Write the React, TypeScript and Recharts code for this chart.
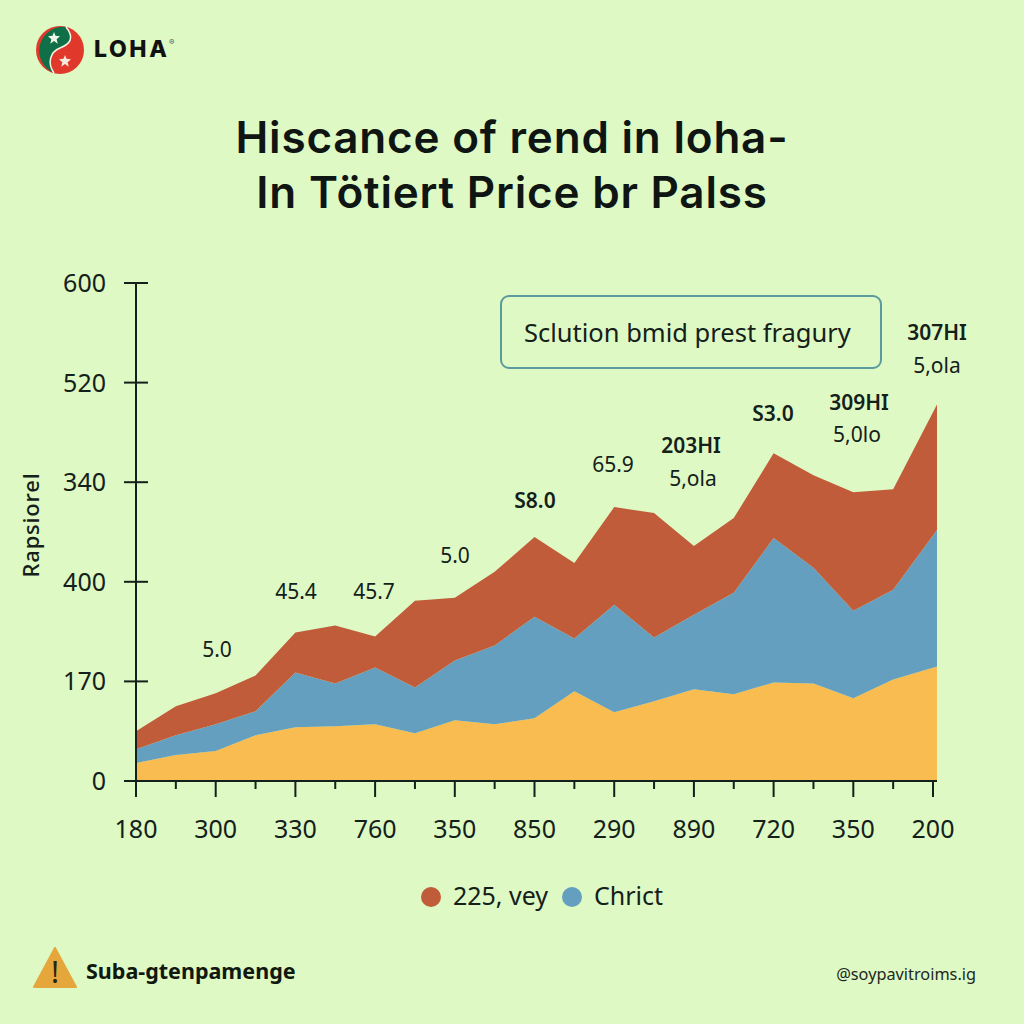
import { Area, AreaChart, Legend, XAxis, YAxis } from "recharts"

const BG = "#DEF9C3"
const INK = "#14201A"
const UI_FONT = "'Noto Sans', sans-serif"
const HEAD_FONT = "Inter, sans-serif"

// last sample sits slightly past the final tick, same as the picture
const xValues = [0, 1, 2, 3, 4, 5, 6, 7, 8, 9, 10, 11, 12, 13, 14, 15, 16, 17, 18, 19, 20.1]
const yellowValues = [18, 26, 30, 46, 54, 55, 57, 48, 61, 57, 63, 90, 69, 80, 92, 87, 99, 98, 83, 102, 115]
const blueValues = [14, 20, 27, 24, 55, 43, 57, 46, 60, 79, 102, 53, 108, 64, 75, 102, 145, 116, 88, 90, 137]
const redValues = [18, 29, 31, 36, 40, 58, 31, 87, 63, 74, 80, 76, 98, 125, 69, 75, 85, 93, 119, 101, 126]

const xTicks = [0, 1, 2, 3, 4, 5, 6, 7, 8, 9, 10, 11, 12, 13, 14, 15, 16, 17, 18, 19, 20]
const xTickLabels = ["180", "300", "330", "760", "350", "850", "290", "890", "720", "350", "200"]
const yTicks = [0, 100, 200, 300, 400, 500]
const yTickLabels = ["0", "170", "400", "340", "520", "600"]

const chartData = xValues.map((x, i) => ({
  x,
  yellow: yellowValues[i],
  blue: blueValues[i],
  red: redValues[i],
}))

type TickProps = {
  x?: number
  y?: number
  index?: number
  payload?: { value: number }
}

function XTick({ x = 0, payload }: TickProps) {
  const value = payload?.value ?? 0
  const isMajor = value % 2 === 0
  return (
    <g>
      <line x1={x} x2={x} y1={781} y2={isMajor ? 797 : 789} stroke={INK} strokeWidth={2} />
      {isMajor && (
        <text x={x} y={838} textAnchor="middle" fontSize={25} fontFamily={UI_FONT} fill={INK}>
          {xTickLabels[value / 2]}
        </text>
      )}
    </g>
  )
}

function YTick({ y = 0, index = 0 }: TickProps) {
  return (
    <g>
      <line x1={124} x2={148} y1={y} y2={y} stroke={INK} strokeWidth={2} />
      <text x={106} y={y + 9} textAnchor="end" fontSize={25} fontFamily={UI_FONT} fill={INK}>
        {yTickLabels[index]}
      </text>
    </g>
  )
}

function Note({ x, y, text, bold }: { x: number; y: number; text: string; bold?: boolean }) {
  return (
    <text
      x={x}
      y={y}
      textAnchor="middle"
      fontSize={21}
      fontWeight={bold ? 600 : 400}
      fontFamily={UI_FONT}
      fill={INK}
    >
      {text}
    </text>
  )
}

function Logo() {
  const star = "0,-8 2,-3 8,-2.5 3.5,1.5 5,7.5 0,4 -5,7.5 -3.5,1.5 -8,-2.5 -2,-3"
  const curve = "M66 27 C75 38 70 44 60 48 C50 52 47 63 54 73"
  return (
    <g>
      <circle cx={60} cy={50} r={24} fill="#E0392B" />
      <path d={`${curve} A24 24 0 0 1 66 27 Z`} fill="#0F7048" />
      <path d={curve} fill="none" stroke="#F4F4E4" strokeWidth={1.5} />
      <polygon points={star} fill="#EFF5E6" transform="translate(54 38) scale(0.75)" />
      <polygon points={star} fill="#F5E8DC" transform="translate(65 61) scale(0.75)" />
      <text x={94} y={57} fontSize={23} fontWeight={800} letterSpacing={2.6} fontFamily={HEAD_FONT} fill="#111">
        LOHA
      </text>
      <text x={169} y={45} fontSize={8} fontFamily={HEAD_FONT} fill="#555">
        ®
      </text>
    </g>
  )
}

export default function App() {
  return (
    <div style={{ position: "absolute", left: 0, top: 0, width: 1024, height: 1024, background: BG }}>
      <AreaChart
        width={1024}
        height={1024}
        data={chartData}
        margin={{ top: 283, right: 87, bottom: 183, left: 76 }}
      >
        <XAxis
          dataKey="x"
          type="number"
          domain={[0, 20.1]}
          ticks={xTicks}
          interval={0}
          height={60}
          tickSize={0}
          tickMargin={0}
          axisLine={{ stroke: INK, strokeWidth: 2 }}
          tickLine={false}
          tick={<XTick />}
        />
        <YAxis
          type="number"
          domain={[0, 500]}
          ticks={yTicks}
          interval={0}
          width={60}
          tickSize={0}
          tickMargin={0}
          axisLine={{ stroke: INK, strokeWidth: 2 }}
          tickLine={false}
          tick={<YTick />}
        />
        <Area
          type="linear"
          dataKey="yellow"
          stackId="price"
          name="Yellow"
          legendType="none"
          fill="#F8BC50"
          fillOpacity={1}
          stroke="none"
          isAnimationActive={false}
        />
        <Area
          type="linear"
          dataKey="blue"
          stackId="price"
          name="Chrict"
          legendType="circle"
          fill="#659FBF"
          fillOpacity={1}
          stroke="none"
          isAnimationActive={false}
        />
        <Area
          type="linear"
          dataKey="red"
          stackId="price"
          name="225, vey"
          legendType="circle"
          fill="#C15C3A"
          fillOpacity={1}
          stroke="none"
          isAnimationActive={false}
        />
        <Legend
          layout="horizontal"
          verticalAlign="middle"
          align="center"
          iconSize={20}
          width={500}
          wrapperStyle={{ left: 299, top: 874 }}
          formatter={(value: string) => (
            <span
              style={{
                color: INK,
                fontSize: 25,
                fontFamily: UI_FONT,
                position: "relative",
                top: 4,
                marginLeft: 8,
                marginRight: 4,
              }}
            >
              {value}
            </span>
          )}
        />

        <Logo />

        <text x={512} y={153} textAnchor="middle" fontSize={44} fontWeight={600} letterSpacing={0.8} fontFamily={HEAD_FONT} fill="#0E1512">
          Hiscance of rend in loha-
        </text>
        <text x={512} y={208} textAnchor="middle" fontSize={44} fontWeight={600} letterSpacing={0.8} fontFamily={HEAD_FONT} fill="#0E1512">
          In Tötiert Price br Palss
        </text>

        <text
          transform="translate(39 525) rotate(-90)"
          textAnchor="middle"
          fontSize={22}
          fontWeight={500}
          letterSpacing={0.8}
          fontFamily={UI_FONT}
          fill={INK}
        >
          Rapsiorel
        </text>

        <rect x={501} y={296} width={380} height={72} rx={8} fill="none" stroke="#5B9A9E" strokeWidth={2} />
        <text x={524} y={342} fontSize={25.5} fontFamily={UI_FONT} fill={INK}>
          Sclution bmid prest fragury
        </text>

        <Note x={217} y={657} text="5.0" />
        <Note x={296} y={599} text="45.4" />
        <Note x={374} y={599} text="45.7" />
        <Note x={455} y={563} text="5.0" />
        <Note x={535} y={508} text="S8.0" bold />
        <Note x={613} y={472} text="65.9" />
        <Note x={691} y={453} text="203HI" bold />
        <Note x={693} y={486} text="5,ola" />
        <Note x={773} y={421} text="S3.0" bold />
        <Note x={859} y={410} text="309HI" bold />
        <Note x={857} y={442} text="5,0lo" />
        <Note x={937} y={340} text="307HI" bold />
        <Note x={937} y={373} text="5,ola" />

        <polygon points="55,948 76,987 34,987" fill="#E5A73B" stroke="#E5A73B" strokeWidth={2} strokeLinejoin="round" />
        <text x={55} y={983} textAnchor="middle" fontSize={30} fontFamily={UI_FONT} fill="#2A2412">
          !
        </text>
        <text x={86} y={979} fontSize={21.5} fontWeight={700} fontFamily={UI_FONT} fill="#10180F">
          Suba-gtenpamenge
        </text>
        <text x={976} y={980} textAnchor="end" fontSize={16.3} fontFamily={UI_FONT} fill="#20281E">
          @soypavitroims.ig
        </text>
      </AreaChart>
    </div>
  )
}
